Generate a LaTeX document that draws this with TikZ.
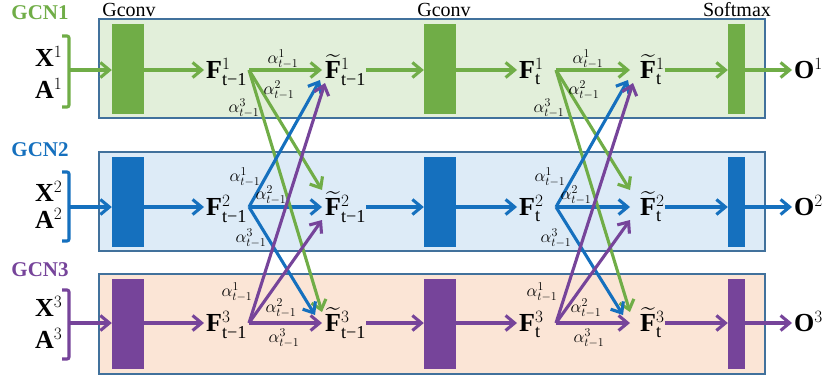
\documentclass[tikz,border=0pt]{standalone}
\usepackage{amsmath}
\usepackage{fontspec}
\setmainfont{Liberation Serif}
\usetikzlibrary{arrows.meta,calc}

\definecolor{gcngreen}{HTML}{70AD47}
\definecolor{gcnblue}{HTML}{1570BE}
\definecolor{gcnpurple}{HTML}{76449A}
\definecolor{bandgreen}{HTML}{E2EFDA}
\definecolor{bandblue}{HTML}{DDEBF7}
\definecolor{bandpeach}{HTML}{FBE5D6}
\definecolor{bandline}{HTML}{41719C}

\tikzset{
  flow/.style={line width=3.1pt, -{Straight Barb[length=9pt,width=15pt]}},
  band/.style={draw=bandline, line width=1.8pt},
  convbar/.style={minimum width=32pt, minimum height=90pt, inner sep=0pt},
  smbar/.style={minimum width=17pt, minimum height=90pt, inner sep=0pt},
  feat/.style={inner sep=0pt, anchor=base west, font=\fontsize{26}{30}\selectfont},
  wt/.style={inner sep=0pt, font=\fontsize{18}{20}\selectfont},
  layername/.style={inner sep=0pt, font=\fontsize{20}{24}\selectfont},
  gcnname/.style={inner sep=0pt, font=\bfseries\fontsize{21}{24}\selectfont},
}

\begin{document}
\begin{tikzpicture}[x=1pt, y=-1pt]
    \useasboundingbox (0,0) rectangle (824,381);

    % bands
    \draw[band, fill=bandgreen] (99,19) rectangle (765,118);
    \draw[band, fill=bandblue] (99,152) rectangle (765,251);
    \draw[band, fill=bandpeach] (99,274) rectangle (765,374);

    % layer titles
    \node[layername] (gca) at (129,10) {Gconv};
    \node[layername] (gcb) at (444,10) {Gconv};
    \node[layername] (smx) at (737,10) {Softmax};

    % one row per GCN
    \foreach \k/\y/\by/\yn/\yx/\ya/\yt/\yb/\col in {1/70/69/13/58/90/36/107/gcngreen,
        2/207/202/150/193/220/172/241/gcnblue, 3/323/324/270/308/340/290/359/gcnpurple}{
        \node[gcnname, text=\col] (gcn\k) at (40,\yn) {GCN\k};
        \node[feat] (x\k) at (35,\yx+8.5) {$\mathbf{X}^{\k}$};
        \node[feat] (a\k) at (35,\ya+8.5) {$\mathbf{A}^{\k}$};
        \draw[\col, line width=3.1pt, rounded corners=2pt] (62,\yt) -- (69,\yt) -- (69,\yb) -- (62,\yb);
        \coordinate (br\k) at (69,\y);
        \node[convbar, fill=\col] (ga\k) at (128,\by) {};
        \node[convbar, fill=\col] (gb\k) at (440,\by) {};
        \node[smbar, fill=\col] (sm\k) at (736.5,\by) {};
        \node[feat] (fa\k) at (206,\y+8.5) {$\mathbf{F}^{\k}_{\text{t−1}}$};
        \node[feat] (ta\k) at (325,\y+8.5) {$\widetilde{\mathbf{F}}{}^{\k}_{\text{t−1}}$};
        \node[feat] (fb\k) at (519,\y+8.5) {$\mathbf{F}^{\k}_{\text{t}}$};
        \node[feat] (tb\k) at (640,\y+8.5) {$\widetilde{\mathbf{F}}{}^{\k}_{\text{t}}$};
        \node[feat] (o\k) at (794,\y+8.5) {$\mathbf{O}^{\k}$};
        \coordinate (sa\k) at (249,\y);
        \coordinate (pa\k) at (322,\y);
        \coordinate (sb\k) at (556,\y);
        \coordinate (pb\k) at (630,\y);
        \draw[flow, \col] (br\k) -- (ga\k.west |- br\k);
        \draw[flow, \col, shorten >=2pt] (ga\k.east |- br\k) -- (fa\k.west |- br\k);
        \draw[flow, \col] (sa\k) -- (pa\k);
        \draw[flow, \col] (ta\k.east |- br\k) -- (gb\k.west |- br\k);
        \draw[flow, \col, shorten >=2pt] (gb\k.east |- br\k) -- (fb\k.west |- br\k);
        \draw[flow, \col] (sb\k) -- (pb\k);
        \draw[flow, \col] (tb\k.east |- br\k) -- (sm\k.west |- br\k);
        \draw[flow, \col, shorten >=2pt] (sm\k.east |- br\k) -- (o\k.west |- br\k);
    }

    % attention links between the rows
    \foreach \s in {a,b}{
        \draw[flow, gcngreen] (s\s1) -- ($(p\s2)+(0,-17)$);
        \draw[flow, gcngreen] (s\s1) -- ($(p\s3)+(0,-11)$);
        \draw[flow, gcnblue] (s\s2) -- ($(p\s1)+(-2,10)$);
        \draw[flow, gcnblue] (s\s2) -- ($(p\s3)+(-7,-8)$);
        \draw[flow, gcnpurple] (s\s3) -- ($(p\s1)+(3,13)$);
        \draw[flow, gcnpurple] (s\s3) -- ($(p\s2)+(0,13)$);
    }

    % attention weights
    \foreach \s/\dx in {a/0, b/305}{
        \node[wt] (w\s11) at (283+\dx,59) {$\alpha^1_{t-1}$};
        \node[wt] (w\s12) at (279+\dx,90) {$\alpha^2_{t-1}$};
        \node[wt] (w\s13) at (244+\dx,108) {$\alpha^3_{t-1}$};
        \node[wt] (w\s21) at (245+\dx,177) {$\alpha^1_{t-1}$};
        \node[wt] (w\s22) at (271+\dx,195) {$\alpha^2_{t-1}$};
        \node[wt] (w\s23) at (251+\dx,238) {$\alpha^3_{t-1}$};
        \node[wt] (w\s31) at (237+\dx,292) {$\alpha^1_{t-1}$};
        \node[wt] (w\s32) at (281+\dx,308) {$\alpha^2_{t-1}$};
        \node[wt] (w\s33) at (284+\dx,338) {$\alpha^3_{t-1}$};
    }
\end{tikzpicture}
\end{document}
